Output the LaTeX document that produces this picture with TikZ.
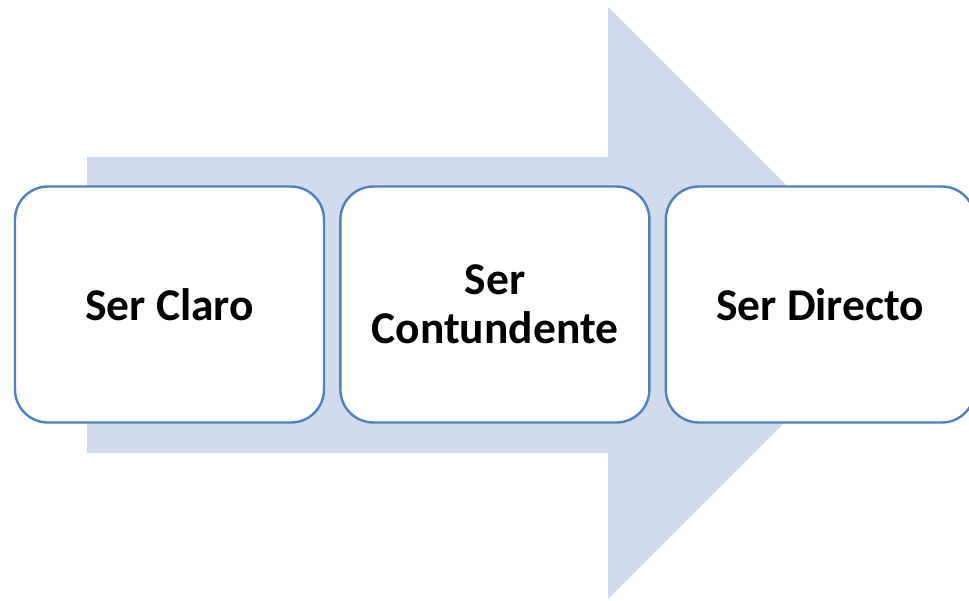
\documentclass[tikz,border=0pt]{standalone}
\usepackage{fontspec}
\setmainfont{Carlito}
\usepackage{xcolor}
\usetikzlibrary{positioning}
\definecolor{arrowfill}{RGB}{208,220,238}
\definecolor{boxblue}{RGB}{79,129,189}

\begin{document}
\begin{tikzpicture}[x=1pt, y=-1pt,
        stepbox/.style={shape=rectangle, rounded corners=33pt, draw=boxblue, fill=white, line width=2.4pt,
                        minimum width=309pt, minimum height=236pt, align=center, inner sep=0pt,
                        font=\fontsize{45.5}{49}\selectfont\bfseries}]
        \useasboundingbox (0, 0) rectangle (969, 600);
        % Big arrow behind
        \fill[arrowfill] (87, 157) -- (608, 157) -- (608, 7) -- (904, 303) -- (608, 599) -- (608, 453) -- (87, 453) -- cycle;
        % Boxes
        \node[stepbox] (claro) at (169.5, 304.5) {Ser Claro};
        \node[stepbox, right=14pt of claro] (contundente) {Ser\\Contundente};
        \node[stepbox, right=14pt of contundente] (directo) {Ser Directo};
\end{tikzpicture}
\end{document}
